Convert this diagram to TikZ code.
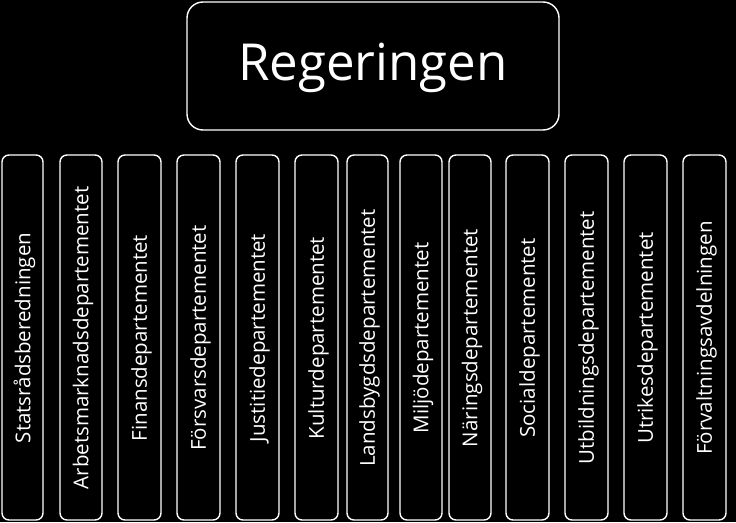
\documentclass[tikz,border=0pt]{standalone}
\usepackage{fontspec}
\setmainfont{Open Sans}
\begin{document}
\begin{tikzpicture}[x=1pt,y=-1pt,
  box/.style={draw=white,line width=1.4pt,fill=black,rounded corners=7pt},
  lab/.style={text=white,font=\fontsize{20.5}{22}\selectfont,rotate=90}]
\fill[black] (0,0) rectangle (736,522);
\useasboundingbox (0,0) rectangle (736,522);
\draw[box,rounded corners=16pt] (187,2) rectangle (559,130);
\node[text=white,font=\fontsize{51}{56}\selectfont] (top) at (373,68) {Regeringen};
\foreach \a/\b/\t [count=\i] in {2/43/Statsrådsberedningen,60/102/Arbetsmarknadsdepartementet,118/161/Finansdepartementet,177/220/Försvarsdepartementet,236/279/Justitiedepartementet,295/338/Kulturdepartementet,347/388/Landsbygdsdepartementet,400/442/Miljödepartementet,449/491/Näringsdepartementet,506/549/Socialdepartementet,565/608/Utbildningsdepartementet,624/667/Utrikesdepartementet,683/726/Förvaltningsavdelningen}{
  \draw[box] (\a,155) rectangle (\b,520);
  \node[lab] (d\i) at ({(\a+\b)/2+2},338) {\t};
}
\end{tikzpicture}
\end{document}
